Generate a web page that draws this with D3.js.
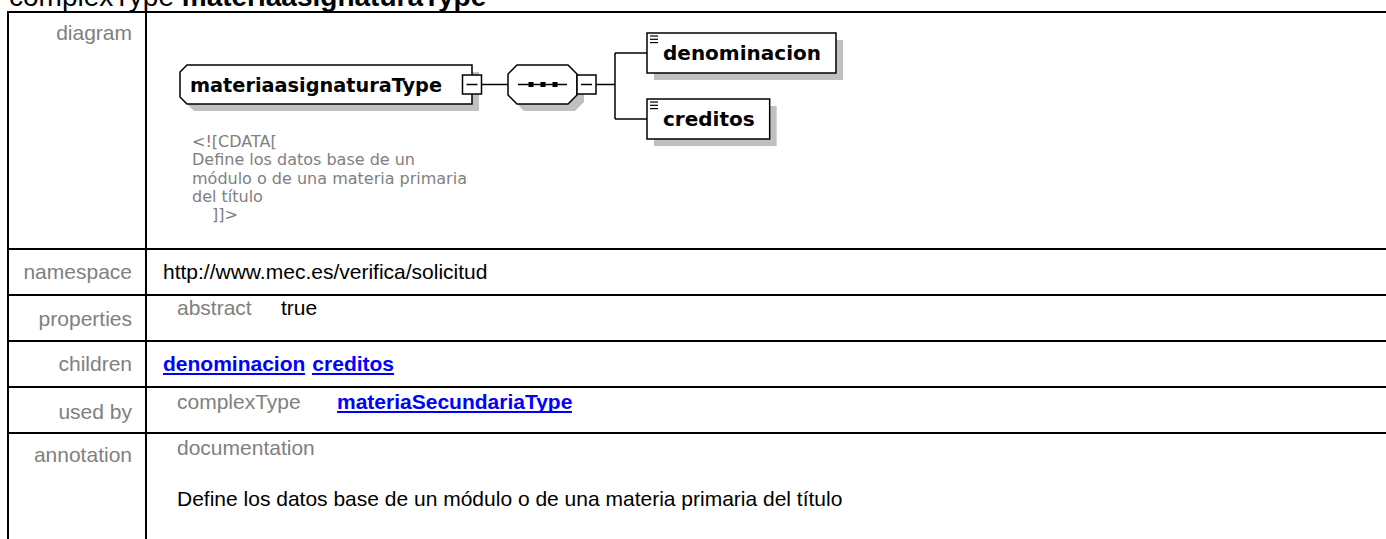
<!DOCTYPE html>
<html><head><meta charset="utf-8">
<script src="https://cdn.jsdelivr.net/npm/d3@7"></script>
<style>html,body{margin:0;padding:0;background:#fff;overflow:hidden}</style>
</head><body>
<script>
// ---------- data ----------
const titleKind = "complexType";
const typeName = "materiaasignaturaType";
const rowLabels = ["diagram", "namespace", "properties", "children", "used by", "annotation"];
const namespaceURI = "http://www.mec.es/verifica/solicitud";
const propNames = ["abstract"];
const propValues = ["true"];
const childElements = ["denominacion", "creditos"];
const usedByKinds = ["complexType"];
const usedByNames = ["materiaSecundariaType"];
const docKind = "documentation";
const docText = "Define los datos base de un módulo o de una materia primaria del título";
const cdataLines = ["<![CDATA[", "Define los datos base de un", "módulo o de una materia primaria", "del título", "]]>"];

// ---------- layout ----------
const W = 1386, H = 539;
const FONT = "'Liberation Sans', Arial, sans-serif";
const DFONT = "'DejaVu Sans', Verdana, sans-serif";
const GRAY = "#808080", BLUE = "#0000ff", SHADOW = "#c0c0c0";

const svg = d3.select("body").append("svg")
  .attr("width", W).attr("height", H).style("display", "block");

const rowY = d3.scaleOrdinal().domain(rowLabels).range([12, 249, 295, 341, 387, 433]);
const labelBase = d3.scaleOrdinal().domain(rowLabels).range([40, 279, 326, 371, 419, 462]);
const xLeft = 8, xDiv = 146, xLabelRight = 132, xContent = 163, xNested = 177;

// title (partly scrolled off the top)
const title = svg.append("text").attr("x", 9).attr("y", 6)
  .attr("font-family", FONT).attr("font-size", 28).attr("fill", "#000");
title.append("tspan").text(titleKind + " ");
title.append("tspan").attr("font-weight", "bold").text(typeName);

// table grid
const grid = svg.append("g").attr("stroke", "#000").attr("stroke-width", 2).attr("shape-rendering", "crispEdges");
grid.selectAll("line.h").data(rowLabels).join("line").attr("class", "h")
  .attr("x1", xLeft - 1).attr("x2", W).attr("y1", d => rowY(d)).attr("y2", d => rowY(d));
grid.append("line").attr("x1", xLeft).attr("x2", xLeft).attr("y1", rowY(rowLabels[0]) - 1).attr("y2", H);
grid.append("line").attr("x1", xDiv).attr("x2", xDiv).attr("y1", rowY(rowLabels[0]) - 1).attr("y2", H);

// row labels
svg.append("g").selectAll("text").data(rowLabels).join("text")
  .attr("x", xLabelRight).attr("y", d => labelBase(d)).attr("text-anchor", "end")
  .attr("font-family", FONT).attr("font-size", 21).attr("fill", GRAY).text(d => d);

function txt(x, y, s, opts = {}) {
  const t = svg.append("text").attr("x", x).attr("y", y)
    .attr("font-family", opts.family || FONT).attr("font-size", opts.size || 21)
    .attr("fill", opts.fill || "#000").text(s);
  if (opts.bold) t.attr("font-weight", "bold");
  return t;
}
function link(x, y, s) {
  const t = txt(x, y, s, { bold: true, fill: BLUE });
  const w = t.node().getComputedTextLength();
  svg.append("line").attr("x1", x).attr("x2", x + w).attr("y1", y + 3).attr("y2", y + 3)
    .attr("stroke", BLUE).attr("stroke-width", 2).attr("shape-rendering", "crispEdges");
  return x + w;
}

// namespace
txt(xContent, labelBase("namespace"), namespaceURI);
// properties
propNames.forEach((p, i) => {
  const y = rowY("properties") + 20 + i * 24;
  txt(xNested, y, p, { fill: GRAY });
  txt(281, y, propValues[i]);
});
// children
let cx = xContent;
childElements.forEach(c => { cx = link(cx, labelBase("children"), c) + 7; });
// used by
usedByKinds.forEach((k, i) => {
  const y = rowY("used by") + 22 + i * 24;
  txt(xNested, y, k, { fill: GRAY });
  link(337, y, usedByNames[i]);
});
// annotation
txt(xNested, rowY("annotation") + 22, docKind, { fill: GRAY });
txt(xNested, rowY("annotation") + 73, docText);

// ---------- diagram ----------
const dg = svg.append("g").attr("stroke-linejoin", "miter");
const SH = 7;
function poly(pts, dx, dy) { return pts.map(p => [p[0] + dx, p[1] + dy].join(",")).join(" "); }
function minusBox(x, y) {
  dg.append("rect").attr("x", x).attr("y", y).attr("width", 19).attr("height", 19)
    .attr("fill", "#fff").attr("stroke", "#000").attr("stroke-width", 1.5);
  dg.append("line").attr("x1", x + 4).attr("x2", x + 15).attr("y1", y + 9.5).attr("y2", y + 9.5)
    .attr("stroke", "#000").attr("stroke-width", 1.5);
}

const midY = 84.5;
// main type box
const mb = { x0: 180, x1: 472, y0: 65, y1: 104, c: 7 };
const mainPts = [[mb.x0 + mb.c, mb.y0], [mb.x1, mb.y0], [mb.x1, mb.y1], [mb.x0 + mb.c, mb.y1], [mb.x0, mb.y1 - mb.c], [mb.x0, mb.y0 + mb.c]];
dg.append("polygon").attr("points", poly(mainPts, SH, SH)).attr("fill", SHADOW);
dg.append("polygon").attr("points", poly(mainPts, 0, 0)).attr("fill", "#fff").attr("stroke", "#000").attr("stroke-width", 1.5);
dg.append("text").attr("x", 190).attr("y", 92).attr("font-family", DFONT).attr("font-weight", "bold")
  .attr("font-size", 20).attr("textLength", 252).attr("lengthAdjust", "spacingAndGlyphs").text(typeName);
minusBox(mb.x1 - 9.5, midY - 9.5);

// connector to sequence
dg.append("line").attr("x1", mb.x1 + 9.5).attr("x2", 508).attr("y1", midY).attr("y2", midY).attr("stroke", "#000").attr("stroke-width", 1.5);

// sequence compositor
const sq = { x0: 508, x1: 577, y0: 65, y1: 104, c: 9 };
const seqPts = [[sq.x0 + sq.c, sq.y0], [sq.x1 - sq.c, sq.y0], [sq.x1, sq.y0 + sq.c], [sq.x1, sq.y1 - sq.c], [sq.x1 - sq.c, sq.y1], [sq.x0 + sq.c, sq.y1], [sq.x0, sq.y1 - sq.c], [sq.x0, sq.y0 + sq.c]];
dg.append("polygon").attr("points", poly(seqPts, SH, SH)).attr("fill", SHADOW);
dg.append("polygon").attr("points", poly(seqPts, 0, 0)).attr("fill", "#fff").attr("stroke", "#000").attr("stroke-width", 1.5);
dg.append("line").attr("x1", 518).attr("x2", 567).attr("y1", midY).attr("y2", midY).attr("stroke", "#000").attr("stroke-width", 1.5);
[531, 543, 555].forEach(x => dg.append("rect").attr("x", x - 2.5).attr("y", midY - 2.5).attr("width", 5).attr("height", 5).attr("fill", "#000"));
minusBox(sq.x1, midY - 9.5);

// branches to children
const childY = d3.scalePoint().domain(childElements).range([53, 119]);
const bx = 615, boxX = 647, boxH = 40;
dg.append("line").attr("x1", sq.x1 + 19).attr("x2", bx).attr("y1", midY).attr("y2", midY).attr("stroke", "#000").attr("stroke-width", 1.5);
dg.append("line").attr("x1", bx).attr("x2", bx).attr("y1", childY(childElements[0])).attr("y2", childY(childElements[childElements.length - 1])).attr("stroke", "#000").attr("stroke-width", 1.5);
childElements.forEach(c => {
  const cy = childY(c), y0 = cy - boxH / 2;
  dg.append("line").attr("x1", bx).attr("x2", boxX).attr("y1", cy).attr("y2", cy).attr("stroke", "#000").attr("stroke-width", 1.5);
  const t = dg.append("text").attr("x", boxX + 16).attr("y", cy + 7).attr("font-family", DFONT)
    .attr("font-weight", "bold").attr("font-size", 20).text(c);
  const w = t.node().getComputedTextLength() + 31;
  dg.insert("rect", "text").attr("x", boxX + SH).attr("y", y0 + SH).attr("width", w).attr("height", boxH).attr("fill", SHADOW);
  dg.insert("rect", "text").attr("x", boxX).attr("y", y0).attr("width", w).attr("height", boxH)
    .attr("fill", "#fff").attr("stroke", "#000").attr("stroke-width", 1.5);
  [3, 6.3, 9.6].forEach(d => dg.append("line").attr("x1", boxX + 3).attr("x2", boxX + 11)
    .attr("y1", y0 + d).attr("y2", y0 + d).attr("stroke", "#000").attr("stroke-width", 1.2));
});

// annotation text under the type box
dg.selectAll("text.cdata").data(cdataLines).join("text").attr("class", "cdata")
  .attr("x", (d, i) => i === cdataLines.length - 1 ? 212 : 192)
  .attr("y", (d, i) => 147 + i * 18.3)
  .attr("font-family", DFONT).attr("font-size", 16).attr("fill", GRAY).text(d => d);
</script>
</body></html>
